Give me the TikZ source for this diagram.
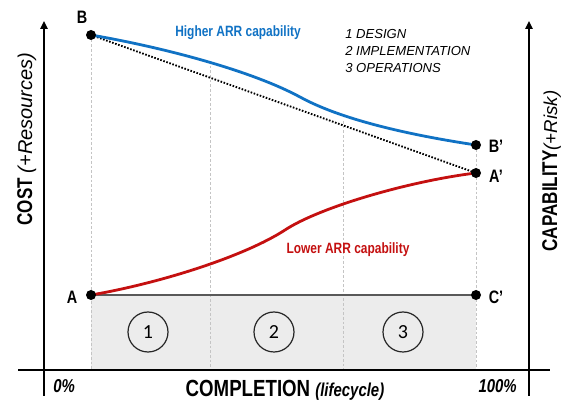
\documentclass[tikz,border=0pt]{standalone}
\usepackage{fontspec}
\setmainfont{Liberation Sans}
\newfontfamily\cond[FakeStretch=0.8]{Liberation Sans}
\newfontfamily\numfont{Carlito}
\usetikzlibrary{arrows.meta}
\definecolor{arrblue}{RGB}{16,114,196}
\definecolor{arrred}{RGB}{196,16,16}
\definecolor{bandgray}{RGB}{236,236,236}
\definecolor{guide}{RGB}{196,196,196}
\begin{document}
\begin{tikzpicture}[x=0.75pt,y=-0.75pt,
  axis/.style={line width=1.9pt},
  tip/.style={-{Triangle[length=6pt,width=5.5pt]}},
  guideline/.style={draw=guide,line width=0.5pt,dash pattern=on 2pt off 1.5pt},
  pt/.style={circle,fill=black,inner sep=0pt,minimum size=7.5pt},
  ptlabel/.style={font=\cond\bfseries\fontsize{13.5}{13.5}\selectfont,inner sep=0pt},
  curvelabel/.style={font=\cond\bfseries\fontsize{11.2}{11.2}\selectfont,inner sep=0pt},
  phase/.style={circle,draw=black!85,line width=0.9pt,minimum size=30pt,inner sep=0pt,font=\numfont\fontsize{15}{15}\selectfont},
  pct/.style={font=\cond\bfseries\itshape\fontsize{14}{14}\selectfont,inner sep=0pt},
  curve/.style={line width=2.1pt},
]
\useasboundingbox (0,0) rectangle (568,402);
% key points
\coordinate (A) at (91,295);
\coordinate (B) at (91,35);
\coordinate (Bp) at (476,145);
\coordinate (Ap) at (476,173);
\coordinate (Cp) at (476,295);
\coordinate (base) at (476,369);
\coordinate (bmid) at (300,97);
\coordinate (rmid) at (285,230);
\coordinate (xl) at (18,370);
\coordinate (xr) at (550,370);
\coordinate (lb) at (44,396);
\coordinate (lt) at (44,21);
\coordinate (rb) at (529,396);
\coordinate (rt) at (529,21);
% shaded phase band
\fill[bandgray] (A) rectangle (base);
% guide lines
\draw[guideline] (B) -- (91,369);
\draw[guideline] (210,61) -- (210,369);
\draw[guideline] (343,121) -- (343,369);
\draw[guideline] (Bp) -- (base);
% baseline A - C'
\draw[black!65,line width=0.9pt] (A) -- (Cp);
% dotted straight line
\draw[line width=1.4pt,dash pattern=on 1.2pt off 1.2pt] (B) -- (Ap);
% curves
\draw[curve,arrblue] (B) .. controls (161,47) and (250,70) .. (bmid)
  .. controls (340,119) and (406,134.5) .. (Bp);
\draw[curve,arrred] (A) .. controls (161,283) and (245,256) .. (rmid)
  .. controls (320,207) and (410,181) .. (Ap);
% axes
\draw[axis] (xl) -- (xr);
\draw[axis,tip] (lb) -- (lt);
\draw[axis,tip] (rb) -- (rt);
% points
\node[pt] (pA) at (A) {};
\node[pt] (pB) at (B) {};
\node[pt] (pBp) at (Bp) {};
\node[pt] (pAp) at (Ap) {};
\node[pt] (pCp) at (Cp) {};
\node[ptlabel] (lA) at (72,297) {A};
\node[ptlabel] (lB) at (82,17) {B};
\node[ptlabel] (lBp) at (496,146) {B’};
\node[ptlabel] (lAp) at (496,176) {A’};
\node[ptlabel] (lCp) at (496,297) {C’};
% curve labels
\node[curvelabel,text=arrblue] (hi) at (238,33) {Higher ARR capability};
\node[curvelabel,text=arrred] (lo) at (348,250) {Lower ARR capability};
% legend
\node[anchor=north west,align=left,inner sep=0pt,font=\itshape\fontsize{9.8}{12.8}\selectfont] (legend) at (345,29) {1 DESIGN\\2 IMPLEMENTATION\\3 OPERATIONS};
% phases
\node[phase] (ph1) at (148,332) {1};
\node[phase] (ph2) at (274,332) {2};
\node[phase] (ph3) at (403,332) {3};
% axis labels
\node[pct,anchor=base west] (p0) at (53,393) {0\%};
\node[pct,anchor=base east] (p100) at (517,393) {100\%};
\node[anchor=base,inner sep=0pt,font=\cond\bfseries\fontsize{17.5}{17.5}\selectfont] (xlab) at (285,397) {COMPLETION {\fontsize{14}{14}\selectfont\itshape (lifecycle)}};
\node[rotate=90,anchor=base,inner sep=0pt,font=\cond\bfseries\fontsize{16}{16}\selectfont] (ylab) at (32,139) {COST {\normalfont\itshape\fontsize{15}{15}\selectfont (+Resources)}};
\node[rotate=90,anchor=base,inner sep=0pt,font=\cond\bfseries\fontsize{16}{16}\selectfont] (y2lab) at (557,171) {CAPABILITY{\normalfont\itshape\fontsize{14}{14}\selectfont (+Risk)}};
\end{tikzpicture}
\end{document}
